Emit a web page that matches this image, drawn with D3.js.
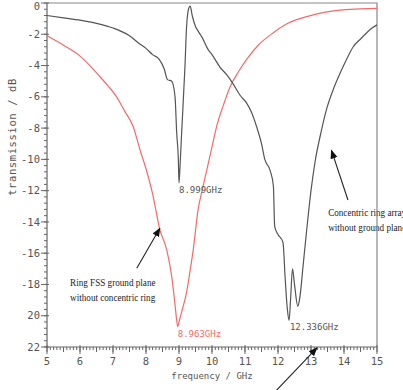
<!DOCTYPE html>
<html>
<meta charset="utf-8">
<head>
<style>
    body { margin: 0; background: white; }
    text { font-family: "DejaVu Sans Mono", monospace; }
    .tick_label { fill: #555; font-size: 10.5px; }
    .axis_title { fill: #555; font-size: 10.5px; }
    .peak_label { font-size: 9px; }
    .note { font-family: "Liberation Serif", "Times New Roman", serif; font-size: 10.5px; fill: #222; }
</style>
</head>
<body>
<div id="viz"></div>
<script src="https://cdn.jsdelivr.net/npm/d3@7"></script>
<script>
const width = 403;
const height = 390;

// concentric ring array without ground plane (black)
const black_freq = [5.0, 5.5, 6.0, 6.5, 7.0, 7.5, 7.8, 8.0, 8.2, 8.4, 8.55, 8.65, 8.78, 8.88, 8.93, 8.98, 9.0, 9.03, 9.08, 9.18, 9.23, 9.3, 9.34, 9.4, 9.5, 9.58, 9.7, 9.89, 10.0, 10.24, 10.45, 10.65, 10.85, 11.05, 11.2, 11.35, 11.5, 11.6, 11.76, 11.86, 11.9, 12.0, 12.15, 12.22, 12.28, 12.336, 12.38, 12.44, 12.5, 12.6, 12.65, 12.77, 12.87, 13.0, 13.12, 13.3, 13.47, 13.68, 13.88, 14.08, 14.28, 14.5, 14.69, 14.85, 15.0];
const black_db = [-0.8, -0.95, -1.1, -1.3, -1.6, -2.1, -2.6, -2.9, -3.3, -3.6, -4.2, -4.9, -5.0, -6.0, -8.3, -10.0, -11.5, -10.5, -8.3, -4.1, -1.5, -0.3, -0.2, -0.8, -1.5, -1.8, -2.2, -3.0, -3.3, -4.1, -4.6, -5.2, -5.9, -6.4, -7.0, -7.9, -9.0, -10.0, -10.7, -11.7, -14.3, -14.8, -15.3, -17.7, -19.5, -20.3, -19.0, -17.0, -18.0, -19.4, -19.0, -16.6, -14.5, -12.0, -10.2, -8.3, -6.8, -5.5, -4.5, -3.6, -2.8, -2.3, -1.9, -1.6, -1.4];

// ring FSS ground plane without concentric ring (red)
const red_freq = [5.0, 5.5, 6.0, 6.3, 6.6, 6.85, 7.11, 7.35, 7.61, 7.82, 8.0, 8.2, 8.42, 8.63, 8.78, 8.88, 8.93, 8.963, 9.0, 9.1, 9.23, 9.33, 9.43, 9.58, 9.7, 9.84, 10.0, 10.14, 10.35, 10.55, 10.8, 11.05, 11.4, 11.86, 12.3, 12.87, 13.4, 13.88, 14.5, 15.0];
const red_db = [-2.1, -2.7, -3.4, -4.0, -4.7, -5.3, -6.0, -6.9, -7.9, -9.4, -10.6, -12.2, -14.5, -15.8, -17.5, -19.3, -20.3, -20.7, -20.4, -19.6, -18.5, -17.2, -15.8, -13.2, -12.0, -10.7, -9.2, -7.9, -6.5, -5.35, -4.4, -3.6, -2.7, -1.9, -1.3, -0.87, -0.6, -0.45, -0.38, -0.34];

const x_ticks = [5, 6, 7, 8, 9, 10, 11, 12, 13, 14, 15];
const y_ticks = [0, -2, -4, -6, -8, -10, -12, -14, -16, -18, -20, -22];
const y_tick_labels = ["0", "-2", "-4", "-6", "-8", "-10", "-12", "-14", "-16", "-18", "20", "22"];

const peak_labels = [
    { text: "8.999GHz", freq: 9.0, db: -11.5, colour: "#555" },
    { text: "8.963GHz", freq: 8.963, db: -20.7, colour: "#f26b6b" },
    { text: "12.336GHz", freq: 12.36, db: -20.3, colour: "#555" }
];

// notes and arrows, in data units
const notes = [
    { lines: ["Ring FSS ground plane", "without concentric  ring"], freq: 5.7, db: -18.1 },
    { lines: ["Concentric ring array", "without ground plane"], freq: 13.52, db: -13.62 }
];
const arrows = [
    { from: [7.72, -16.97], to: [8.42, -14.41] },
    { from: [14.12, -12.6], to: [13.62, -9.43] },
    { from: [11.85, -25.0], to: [13.18, -22.06] }
];

const x = d3.scaleLinear().domain([5, 15]).range([47, 377]);
const y = d3.scaleLinear().domain([0, -22]).range([3, 347]);

const svg = d3.select("#viz")
    .append("svg")
    .attr("width", width)
    .attr("height", height);

svg.append("defs").append("marker")
    .attr("id", "head")
    .attr("viewBox", "0 0 10 10")
    .attr("refX", 9)
    .attr("refY", 5)
    .attr("markerWidth", 9)
    .attr("markerHeight", 9)
    .attr("markerUnits", "userSpaceOnUse")
    .attr("orient", "auto")
    .append("path")
    .attr("d", "M0,1 L10,5 L0,9 Z")
    .attr("fill", "#111");

// notes first, so frame lines draw over them (times font looks condensed in the original)
const note_g = svg.selectAll(".note")
    .data(notes)
    .enter()
    .append("text")
    .attr("class", "note")
    .attr("transform", d => "translate(" + x(d.freq) + "," + y(d.db) + ") scale(0.87,1)");

note_g.selectAll("tspan")
    .data(d => d.lines)
    .enter()
    .append("tspan")
    .attr("x", 0)
    .attr("dy", (d, i) => i == 0 ? 0 : 15)
    .text(d => d);

// frame
svg.append("path")
    .attr("d", "M" + x(5) + "," + y(0) + "H" + x(15) + "V" + y(-22))
    .attr("fill", "none")
    .attr("stroke", "#888")
    .attr("stroke-width", 1.2);

// y axis
let y_minor = d3.range(0, -22.01, -0.4);
svg.selectAll(".y_minor")
    .data(y_minor)
    .enter()
    .append("line")
    .attr("x1", x(5) - 3)
    .attr("x2", x(5))
    .attr("y1", d => y(d))
    .attr("y2", d => y(d))
    .attr("stroke", "#666");

svg.selectAll(".y_major")
    .data(y_ticks)
    .enter()
    .append("line")
    .attr("x1", x(5) - 6)
    .attr("x2", x(5) + 2)
    .attr("y1", d => y(d))
    .attr("y2", d => y(d))
    .attr("stroke", "#666");

svg.selectAll(".y_label")
    .data(y_ticks)
    .enter()
    .append("text")
    .attr("class", "tick_label")
    .attr("x", x(5) - 7)
    .attr("y", d => Math.max(y(d), 6))
    .attr("dy", "0.35em")
    .attr("text-anchor", "end")
    .text((d, i) => y_tick_labels[i]);

// x axis
let x_minor = d3.range(5, 15.001, 0.1);
svg.selectAll(".x_minor")
    .data(x_minor)
    .enter()
    .append("line")
    .attr("x1", d => x(d))
    .attr("x2", d => x(d))
    .attr("y1", y(-22))
    .attr("y2", d => y(-22) + (Math.abs(d * 2 - Math.round(d * 2)) < 0.01 ? 5 : 3))
    .attr("stroke", "#666");

svg.selectAll(".x_major")
    .data(x_ticks)
    .enter()
    .append("line")
    .attr("x1", d => x(d))
    .attr("x2", d => x(d))
    .attr("y1", y(-22) - 2)
    .attr("y2", y(-22) + 7)
    .attr("stroke", "#666");

svg.selectAll(".x_label")
    .data(x_ticks)
    .enter()
    .append("text")
    .attr("class", "tick_label")
    .attr("x", d => x(d))
    .attr("y", y(-22) + 18)
    .attr("text-anchor", "middle")
    .text(d => d);

svg.append("line")
    .attr("x1", x(5)).attr("x2", x(15))
    .attr("y1", y(-22)).attr("y2", y(-22))
    .attr("stroke", "#666")
    .attr("stroke-width", 1.2);
svg.append("line")
    .attr("x1", x(5)).attr("x2", x(5))
    .attr("y1", y(0)).attr("y2", y(-22))
    .attr("stroke", "#666")
    .attr("stroke-width", 1.2);

svg.append("text")
    .attr("class", "axis_title")
    .attr("x", (x(5) + x(15)) / 2)
    .attr("y", y(-22) + 32)
    .attr("text-anchor", "middle")
    .style("font-size", "9px")
    .text("frequency / GHz");

svg.append("text")
    .attr("class", "axis_title")
    .attr("transform", "translate(16," + 137 + ") rotate(-90)")
    .attr("text-anchor", "middle")
    .attr("letter-spacing", 0.6)
    .text("transmission / dB");

// curves
const line = d3.line()
    .x(d => x(d[0]))
    .y(d => y(d[1]))
    .curve(d3.curveMonotoneX);

svg.append("path")
    .datum(red_freq.map((f, i) => [f, red_db[i]]))
    .attr("d", line)
    .attr("fill", "none")
    .attr("stroke", "#f26b6b")
    .attr("stroke-width", 1.2);

svg.append("path")
    .datum(black_freq.map((f, i) => [f, black_db[i]]))
    .attr("d", line)
    .attr("fill", "none")
    .attr("stroke", "#555")
    .attr("stroke-width", 1.2);

svg.selectAll(".peak_label")
    .data(peak_labels)
    .enter()
    .append("text")
    .attr("class", "peak_label")
    .attr("x", d => x(d.freq))
    .attr("y", d => y(d.db) + 10)
    .attr("fill", d => d.colour)
    .text(d => d.text);

svg.selectAll(".arrow")
    .data(arrows)
    .enter()
    .append("line")
    .attr("x1", d => x(d.from[0]))
    .attr("y1", d => y(d.from[1]))
    .attr("x2", d => x(d.to[0]))
    .attr("y2", d => y(d.to[1]))
    .attr("stroke", "#222")
    .attr("stroke-width", 1.1)
    .attr("marker-end", "url(#head)");
</script>
</body>
</html>
